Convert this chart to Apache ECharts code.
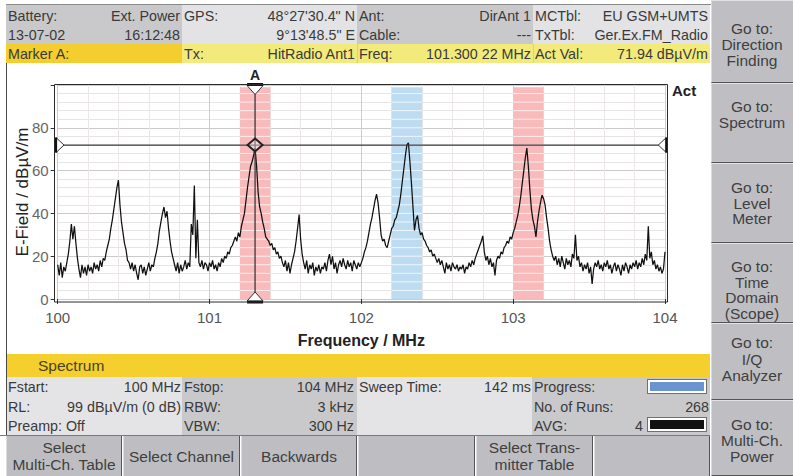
<!DOCTYPE html>
<html><head><meta charset="utf-8">
<script src="https://cdn.jsdelivr.net/npm/echarts/dist/echarts.min.js"></script>
<style>
html,body{margin:0;padding:0;background:#fff;width:793px;height:476px;overflow:hidden;font-family:"Liberation Sans",Arial,sans-serif;}
#ui{position:absolute;left:0;top:0;width:793px;height:476px;z-index:1;}
#chart{position:absolute;left:0;top:0;width:793px;height:476px;z-index:2;pointer-events:none;}
</style>
</head><body>
<div id="ui"></div>
<div id="chart"></div>
<script>
// ---------------- data ----------------
const freqStart = 100;          // MHz
const freqStep = 0.01;          // MHz per trace point
const levels = [
 16,11,17,10,15,13,17,21,27,35,
 28,34,26,19,14,10,16,12,15,11,
 16,13,15,12,17,14,16,13,18,15,
 19,18,22,25,28,33,37,42,47,52,
 55.5,44,36,31,26,23,18,17,14,17,
 13,16,12,9,15,16,12,15,11,14,
 17,13,16,15,19,22,26,32,36,40,
 43,38,41,33,27,22,19,16,13,17,
 12,16,13,15,18,14,17,15,35,30,
 53,19,37,17,15,18,14,17,16,13,
 17,15,18,14,16,13,17,15,19,17,
 20,19,22,21,24,25,27,29,27,31,
 29,34,37,40,46,52,57,62,64,67,
 70.5,62,50,43,40,36,33,29,28,27,
 25,26,23,24,21,22,19,20,17,15,
 18,13,17,12,16,19,22,27,33,39.5,
 28,21,17,14,18,12,16,14,17,11,
 15,13,16,12,15,14,17,13,18,21,
 16,20,14,17,12,16,18,15,19,16,
 14,18,15,17,13,18,16,14,17,15,
 17,19,22,24,27,31,35,38,42,46,
 49,45,38,30,27,28,25,24,27,30,
 33,34,37,38,41,44,49,55,61,67,
 72,73,64,54,43,32,37,39,33,30,
 31,28,27,25,24,22,23,20,21,19,
 17,19,16,18,15,12,17,14,16,13,
 17,15,14,16,13,15,14,16,12,15,
 14,17,15,18,16,19,21,23,25,27,
 29.5,22,18,20,16,19,15,17,11,18,
 20,19,22,21,24,25,27,26,29,28,
 31,33,36,39,43,48,54,60,66,70.5,
 62,51,42,37,34,29,36,41,45,48.5,
 47,44,38,33,27,23,20,18,20,16,
 19,15,20,17,14,19,16,18,15,21,
 19,30,18,20,15,17,13,16,14,17,
 12,15,7,14,17,15,18,14,16,13,
 17,15,18,14,16,12,15,17,13,16,
 14,11,16,13,17,15,12,16,14,17,
 15,18,14,17,15,19,16,21,18,34,
 19,22,16,18,14,16,13,15,12,14,
 22
];
const xTicks = [100, 101, 102, 103, 104];
const yTicks = [0, 20, 40, 60, 80];
const bandStarts = [101.2, 102.2, 103.0];
const bandEnds   = [101.4, 102.4, 103.2];
const bandKinds  = ['tx', 'act', 'tx'];
const markerName = 'A';
const markerFreq = 101.3;
const markerLevel = 71.94;

// ---------------- UI panels (HTML) ----------------
const ui = document.getElementById('ui');
function box(x,y,w,h,bg,css){const d=document.createElement('div');d.style.cssText=`position:absolute;left:${x}px;top:${y}px;width:${w}px;height:${h}px;background:${bg};box-sizing:border-box;${css||''}`;ui.appendChild(d);return d;}
function row(x,y,w,h,l,r,css){const d=box(x,y,w,h,'transparent','display:flex;justify-content:space-between;align-items:center;font-size:14.3px;color:#3a3a3a;white-space:pre;padding:0 2px;'+(css||''));
  const a=document.createElement('span');a.textContent=l;const b=document.createElement('span');b.textContent=r;d.appendChild(a);d.appendChild(b);return d;}
function ctext(x,y,w,lines,lh,fs,css){const d=box(x,y,w,lines.length*lh,'transparent','text-align:center;font-size:'+fs+'px;line-height:'+lh+'px;color:#404040;white-space:pre;'+(css||''));d.textContent=lines.join('\n');return d;}

// top border
box(6,4,787,1,'#8a8a8a');
// header backgrounds
box(6,5,176,39,'#c9c9cb');
box(182,5,175,39,'#e3e3e5');
box(357,5,176,39,'#c9c9cb');
box(533,5,177,39,'#e3e3e5');
box(6,44,176,19,'#f4cd2e');
box(182,44,528,19,'#f2eb7c');
box(357,44,1,19,'#d9d27a');
box(533,44,1,19,'#d9d27a');
// header texts
row(6,6,176,19,'Battery:','Ext. Power');
row(6,25,176,19,'13-07-02','16:12:48');
row(182,6,175,19,'GPS:','48°27\'30.4" N');
row(182,25,175,19,'','9°13\'48.5" E');
row(357,6,176,19,'Ant:','DirAnt 1');
row(357,25,176,19,'Cable:','---');
row(533,6,177,19,'MCTbl:','EU GSM+UMTS');
row(533,25,177,19,'TxTbl:','Ger.Ex.FM_Radio');
row(6,44,176,19,'Marker A:','');
row(182,44,175,19,'Tx:','HitRadio Ant1');
row(357,44,176,19,'Freq:','101.300 22 MHz');
row(533,44,177,19,'Act Val:','71.94 dBµV/m');

// plot panel
box(7,63,703,291,'#ffffff');
box(5.5,63,1.5,373,'#4a4a4a');

// spectrum bar
box(7,354,703,23,'#f5cf2d');
const sp=box(38,354,120,23,'transparent','font-size:15.5px;line-height:23px;color:#4a4224;');sp.textContent='Spectrum';

// info rows
box(7,377,175,59,'#e4e4e6');
box(182,377,175,59,'#c9c9cc');
box(357,377,175,59,'#e4e4e6');
box(532,377,178,59,'#c9c9cc');
row(6,377,177,20,'Fstart:','100 MHz');
row(6,397,177,19,'RL:','99 dBµV/m (0 dB)');
row(6,416,177,19,'Preamp: Off','');
row(182,377,174,20,'Fstop:','104 MHz');
row(182,397,174,19,'RBW:','3 kHz');
row(182,416,174,19,'VBW:','300 Hz');
row(357,377,176,20,'Sweep Time:','142 ms');
row(532,377,110,20,'Progress:','');
row(532,397,179,19,'No. of Runs:','268');
row(532,416,113,19,'AVG:','4');
box(647,379,60,15,'#ffffff','border:1px solid #707070;padding:2px;').appendChild(Object.assign(document.createElement('div'),{style:'width:100%;height:100%;background:#6b93d1'}));
box(647,417,60,15,'#ffffff','border:1px solid #707070;padding:2px;').appendChild(Object.assign(document.createElement('div'),{style:'width:100%;height:100%;background:#111'}));

// bottom buttons
box(0,435,710,1,'#7a7a7a');
const bx=[6,123,241,358,476,594], bw=[116,117,116,117,117,116];
for(let i=0;i<6;i++){box(bx[i],436,bw[i],40,'#bebec2','border-right:1.5px solid #555;border-left:1px solid #dcdcdf;');}
ctext(6,439,116,['Select','Multi-Ch. Table'],17,15.5);
ctext(123,447,117,['Select Channel'],19,15.5);
ctext(241,447,116,['Backwards'],19,15.5);
ctext(476,439,117,['Select Trans-','mitter Table'],17,15.5);

// right buttons
const rt=[0,83,163,243,323,400], rh=[83,80,80,80,77,76];
for(let i=0;i<6;i++){box(711,rt[i],82,rh[i],'#bfbfc3','border-bottom:1.5px solid #555;border-left:1px solid #dadadd;border-top:1px solid #e2e2e5;');}
ctext(711,21,82,['Go to:','Direction','Finding'],16,15.5);
ctext(711,99,82,['Go to:','Spectrum'],16,15.5);
ctext(711,180,82,['Go to:','Level','Meter'],15.5,15.5);
ctext(711,259,82,['Go to:','Time','Domain','(Scope)'],15.5,15.5);
ctext(711,335,82,['Go to:','I/Q','Analyzer'],16.5,15.5);
ctext(711,417,82,['Go to:','Multi-Ch.','Power'],16,15.5);

// ---------------- chart ----------------
const FONT = '"Liberation Sans", Arial, sans-serif';
const bandFill = {tx:'#f8baba', act:'#bddcf1'};
const trace = levels.map((v,i)=>[+(freqStart+i*freqStep).toFixed(2), v]);
const xMin = xTicks[0], xMax = xTicks[xTicks.length-1];
const yMin = 0, yMax = 100;

const chart = echarts.init(document.getElementById('chart'), null, {renderer:'svg'});
chart.setOption({
  animation:false,
  textStyle:{fontFamily:FONT},
  grid:{left:57.7, right:128, top:85, bottom:177, outerBoundsMode:'none', containLabel:false},
  xAxis:{
    type:'value', min:xMin, max:xMax, interval:1, offset:3,
    axisLine:{show:false},
    axisTick:{show:true, length:5, lineStyle:{color:'#333'}},
    axisLabel:{fontSize:15, color:'#555', margin:8, fontFamily:FONT,
      formatter:v=> xTicks.indexOf(v)>=0 ? String(v) : ''},
    splitLine:{show:true, lineStyle:{color:'#cdcdcd', width:1}},
    minorTick:{show:false, splitNumber:5},
    minorSplitLine:{show:true, lineStyle:{color:'#ece6e8', width:1}},
    name:'Frequency / MHz', nameLocation:'middle', nameGap:30, nameMoveOverlap:false,
    nameTextStyle:{fontSize:16, fontWeight:'bold', color:'#222', fontFamily:FONT}
  },
  yAxis:{
    type:'value', min:yMin, max:yMax, interval:20, offset:3,
    axisLine:{show:false},
    axisTick:{show:true, length:4, lineStyle:{color:'#333'}},
    axisLabel:{fontSize:15, color:'#666', margin:6, fontFamily:FONT,
      formatter:v=> yTicks.indexOf(v)>=0 ? String(v) : ''},
    splitLine:{show:true, lineStyle:{color:'#cbcbcb', width:1}},
    minorTick:{show:false, splitNumber:5},
    minorSplitLine:{show:true, lineStyle:{color:'#e6e6e6', width:1}},
    name:'E-Field / dBµV/m', nameLocation:'middle', nameGap:24, nameRotate:90,
    nameMoveOverlap:false,
    nameTextStyle:{fontSize:17, color:'#222', fontFamily:FONT}
  },
  graphic:[
    {type:'rect', shape:{x:54.5, y:84.5, width:613, height:217.5}, style:{fill:'none', stroke:'#2a2a2a', lineWidth:1}, z:100},
    {type:'text', x:672, y:83, style:{text:'Act', font:'bold 15px '+FONT, fill:'#222'}, z:100}
  ],
  series:[
    {
      type:'custom', silent:true, z:1,
      data: bandStarts.map((s,i)=>[s, bandEnds[i], i]),
      encode:{x:[0,1]},
      renderItem:(params, api)=>{
        const i = api.value(2);
        const a = api.coord([api.value(0), yMin]);
        const b = api.coord([api.value(1), 99]);
        const children = [{type:'rect', shape:{x:a[0], y:b[1], width:b[0]-a[0], height:a[1]-b[1]}, style:{fill:bandFill[bandKinds[i]]}}];
        for(let v=4; v<99; v+=4){
          const py = api.coord([api.value(0), v])[1];
          children.push({type:'line', shape:{x1:a[0], y1:py, x2:b[0], y2:py}, style:{stroke:'rgba(255,255,255,0.75)', lineWidth:1}});
        }
        return {type:'group', children};
      }
    },
    {
      type:'line', data:trace, showSymbol:false, z:3,
      lineStyle:{color:'#111', width:1.25}, silent:true
    },
    {
      type:'custom', silent:true, z:5,
      data:[[markerFreq, markerLevel]],
      renderItem:(params, api)=>{
        const f = api.value(0), lv = api.value(1);
        const pt = api.coord([f, lv]);
        const x = pt[0], y = pt[1];
        const fy0 = api.coord([f, yMax])[1] - 0.5;
        const fy1 = api.coord([f, yMin])[1] + 3;
        const xl = api.coord([xMin, lv])[0] - 3.2;
        const xr = api.coord([xMax, lv])[0] + 2.8;
        const st = {stroke:'#333', lineWidth:1, fill:'#fff'};
        return {type:'group', children:[
          {type:'line', shape:{x1:x, y1:fy0, x2:x, y2:fy1}, style:{stroke:'#3a3a3a', lineWidth:1.3}},
          {type:'line', shape:{x1:xl, y1:y, x2:xr, y2:y}, style:{stroke:'#3a3a3a', lineWidth:1.3}},
          {type:'polygon', shape:{points:[[x-8,fy0+1],[x+8,fy0+1],[x,fy0+10]]}, style:st},
          {type:'rect', shape:{x:x-8, y:fy0-1.5, width:16, height:2.8}, style:{fill:'#111'}},
          {type:'polygon', shape:{points:[[x-8,fy1-1],[x+8,fy1-1],[x,fy1-10]]}, style:st},
          {type:'rect', shape:{x:x-8, y:fy1-1.3, width:16, height:2.8}, style:{fill:'#111'}},
          {type:'polygon', shape:{points:[[xl+1.5,y-7.5],[xl+1.5,y+7.5],[xl+9.5,y]]}, style:st},
          {type:'rect', shape:{x:xl, y:y-7.5, width:2.6, height:15}, style:{fill:'#111'}},
          {type:'polygon', shape:{points:[[xr-1.5,y-7.5],[xr-1.5,y+7.5],[xr-9.5,y]]}, style:st},
          {type:'rect', shape:{x:xr-2.6, y:y-7.5, width:2.6, height:15}, style:{fill:'#111'}},
          {type:'polygon', shape:{points:[[x,y-6.5],[x+7.5,y],[x,y+6.5],[x-7.5,y]]}, style:{stroke:'#222', lineWidth:2, fill:'rgba(255,255,255,0.35)'}},
          {type:'text', style:{text:markerName, x:x, y:fy0-10, font:'bold 14px '+FONT, fill:'#222', align:'center', verticalAlign:'middle'}}
        ]};
      }
    }
  ]
});
</script>
</body></html>
